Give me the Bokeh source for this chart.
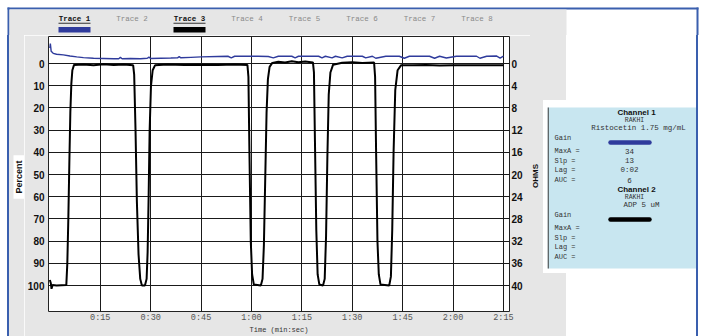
import math
from bokeh.plotting import figure
from bokeh.layouts import column, row
from bokeh.models import Range1d, LinearAxis, FixedTicker, Div
from bokeh.core.properties import value
from bokeh.embed import file_html
from bokeh.resources import INLINE

# ---------------- data ----------------
# Channel 2 (black trace), percent vs seconds
black_t = [0, 0.3, 0.5, 0.8, 2.0, 4.9, 5.2, 5.5, 5.8, 6.1, 6.4, 6.7, 7.2, 10, 13, 16, 19, 22,
           24.8, 25.1, 25.5, 25.9, 26.4, 26.9, 27.4, 28.3, 28.8, 29.1, 29.4, 29.7, 30.1, 30.6, 31.3,
           35, 40, 45, 50, 55,
           58.8, 59.1, 59.4, 59.8, 60.2, 60.7, 62.8, 63.3, 63.7, 64.1, 64.5, 64.9, 65.4, 66.2,
           68, 70, 72, 74, 76,
           78.3, 78.6, 78.9, 79.3, 79.7, 80.2, 81.3, 81.8, 82.2, 82.6, 83.0, 83.5, 84.3,
           87, 90, 93, 96.5, 96.8, 97.1, 97.5, 97.9, 98.4, 101.0, 101.5, 101.9, 102.3, 102.8, 103.5, 104.5,
           108, 112, 116, 120, 125, 130, 135]
black_pct = [97.5, 99, 101.5, 99.8, 100, 99.8, 90, 70, 45, 22, 9, 3, 0.6, 0.4, 0.7, 0.3, 0.6, 0.4,
             0.8, 5, 30, 62, 86, 97, 100, 100, 97, 85, 60, 30, 10, 3, 0.8,
             0.4, 0.6, 0.5, 0.6, 0.4,
             0.6, 6, 40, 80, 95, 99.5, 100, 97, 82, 52, 22, 7, 1.5, -0.3,
             -0.8, -0.5, -1.0, -0.6, -0.9,
             -0.5, 4, 35, 75, 95, 99.5, 100, 97, 78, 42, 14, 4, 0.5,
             -0.4, -0.6, -0.3, -0.5, 6, 40, 80, 95, 99.5, 100, 96, 75, 40, 12, 3, 0.8,
             0.8, 0.6, 0.9, 0.7, 0.8, 0.7, 0.8]

# Channel 1 (blue trace)
blue_t = [0, 0.15, 0.4, 1, 2, 4, 6, 8, 10, 13, 16, 19, 20.5, 21, 21.5, 24, 27, 29, 29.5, 30,
          33, 36, 38, 38.5, 39, 42, 45, 50, 53, 54, 55, 58, 62, 65, 66.5, 68, 72, 73, 74,
          77, 80, 81, 82, 84, 85, 87, 88.5, 90, 93, 94, 96, 97, 100, 104, 105.5, 107, 110,
          113, 114.5, 116, 118, 121, 124, 127, 128, 130, 133, 134, 135]
blue_pct = [-7, -9, -5.5, -4.6, -4.2, -3.9, -3.4, -3.0, -2.7, -2.4, -2.3, -2.2, -2.2, -2.8, -2.2, -2.3, -2.2, -2.4, -2.9, -2.3,
            -2.4, -2.5, -2.6, -3.1, -2.6, -2.8, -3.0, -3.2, -3.3, -2.6, -3.3, -3.3, -3.3, -3.2, -2.6, -3.3, -3.3, -2.6, -3.3,
            -3.3, -3.3, -2.6, -3.3, -2.6, -3.3, -2.6, -3.3, -3.3, -3.3, -2.6, -3.3, -2.4, -3.3, -3.3, -2.4, -3.3, -3.3,
            -3.3, -2.4, -3.3, -2.5, -3.3, -3.3, -3.3, -2.4, -3.3, -3.4, -2.5, -3.4]

pct_ticks = [0, 10, 20, 30, 40, 50, 60, 70, 80, 90, 100]
ohm_ticks = [0, 4, 8, 12, 16, 20, 24, 28, 32, 36, 40]
time_ticks = [15, 30, 45, 60, 75, 90, 105, 120, 135]
time_labels = ["0:15", "0:30", "0:45", "1:00", "1:15", "1:30", "1:45", "2:00", "2:15"]

trace_names = ["Trace 1", "Trace 2", "Trace 3", "Trace 4", "Trace 5", "Trace 6", "Trace 7", "Trace 8"]
trace_colors = {0: "#2f3b9c", 2: "#000000"}

ch_names = ["Channel 1", "Channel 2"]
ch_patient = ["RAKHI", "RAKHI"]
ch_agonist = ["Ristocetin 1.75 mg/mL", "ADP 5 uM"]
stat_names = ["MaxA", "Slp", "Lag", "AUC"]
ch_stats = [["34", "13", "0:02", "6"], ["", "", "", ""]]
ch_colors = ["#2f3b9c", "#000000"]

GRAY = "#e6e6e6"
BORDER = "#3a5fae"
PANEL = "#c8e6f0"

# ---------------- layout geometry (page pixels) ----------------
PAGE_W, PAGE_H = 704, 336
TOP_H = 35
FR_L, FR_R, FR_T, FR_B = 46, 509, 36, 314   # plot frame
BT, BB = FR_T - TOP_H, PAGE_H - FR_B       # row borders (top 1, bottom 22)
ROW_H = PAGE_H - TOP_H
BAND_T, BAND_B = 100, 273                  # white band around the info box


def solid(w, h, color):
    return Div(text="", width=w, height=h, margin=0, styles={"background-color": color})


def block(x0, x1, fill, y0=TOP_H, y1=PAGE_H, bt=BT, bb=BB):
    """A canvas in page-pixel coordinates (y drawn as -page_y)."""
    f = figure(width=x1 - x0, height=y1 - y0, output_backend="svg", toolbar_location=None,
               x_range=Range1d(x0, x1), y_range=Range1d(-(y1 - bb), -(y0 + bt)),
               min_border_left=0, min_border_right=0, min_border_top=bt, min_border_bottom=bb,
               x_axis_location=None, y_axis_location=None,
               styles={"background-color": fill})
    f.outline_line_color = None
    f.grid.grid_line_color = None
    f.background_fill_color = fill
    f.border_fill_color = fill
    f.tags = [x0, x1, y0 + bt, y1 - bb]
    return f


def rect(f, x0, x1, y0, y1, color):
    fx0, fx1, fy0, fy1 = f.tags
    e = 0.01
    a, b = max(x0, fx0 + e), min(x1, fx1 - e)
    c, d = max(y0, fy0 + e), min(y1, fy1 - e)
    if a < b and c < d:
        f.quad(left=[a], right=[b], top=[-c], bottom=[-d], fill_color=color, line_color=None)


def txt(f, s, x, y, size, font="Liberation Mono", style="normal", color="#222222",
        align="center", angle=0):
    f.text(x=[x], y=[-y], text=[s], text_font=value(font), text_font_size=value(size),
           text_font_style=style, text_color=color, text_align=align,
           text_baseline="middle", angle=angle)


# ---------- top strip: trace legend ----------
top = block(0, PAGE_W, "white", y0=0, y1=TOP_H, bt=0, bb=0)
rect(top, 7, 9, 7, TOP_H, BORDER)
rect(top, 7, 698, 7, 9, BORDER)
rect(top, 9, 566, 9, TOP_H, GRAY)
rect(top, 696, 698, 7, TOP_H, BORDER)
for i, name in enumerate(trace_names):
    cx = 74 + 57.5 * i
    if i in trace_colors:
        txt(top, name, cx, 18.5, "7.5px", style="bold", color="#111111")
        rect(top, cx - 16, cx + 16, 22.3, 23.3, "#333333")
        rect(top, cx - 16, cx + 16, 26.5, 32, trace_colors[i])
    else:
        txt(top, name, cx, 18.5, "7.5px", color="#8a8a8a")

# ---------- left: margin, border, y-axis title ----------
lm_gray = block(9, FR_L - 22, GRAY)
rect(lm_gray, 13, 23.5, 156, 200, "white")
txt(lm_gray, "Percent", 18.5, 178, "9px", font="Liberation Sans", style="bold",
    color="#111111", angle=math.pi / 2)

# ---------- main chart ----------
SIDE_X = 530
p = figure(width=SIDE_X - (FR_L - 22), height=ROW_H, output_backend="svg", toolbar_location=None,
           x_range=Range1d(-0.4, 136.8), y_range=Range1d(111.7, -12.2),
           min_border_left=22, min_border_right=SIDE_X - FR_R,
           min_border_top=BT, min_border_bottom=BB)
p.extra_y_ranges = {"ohms": Range1d(111.7 * 0.4, -12.2 * 0.4)}
p.background_fill_color = "white"
p.border_fill_color = GRAY
p.outline_line_color = "#222222"
p.outline_line_width = 1

right = LinearAxis(y_range_name="ohms", ticker=FixedTicker(ticks=ohm_ticks))
p.add_layout(right, "right")

for ax in [p.xaxis[0], p.yaxis[0], right]:
    ax.axis_line_color = None
    ax.major_tick_line_color = None
    ax.minor_tick_line_color = None
    ax.major_tick_out = 0
    ax.major_tick_in = 0
    ax.minor_tick_out = 0
    ax.minor_tick_in = 0

p.yaxis[0].ticker = FixedTicker(ticks=pct_ticks)
for ax in [p.yaxis[0], right]:
    ax.major_label_text_font = "Liberation Sans"
    ax.major_label_text_font_style = "bold"
    ax.major_label_text_font_size = "10px"
    ax.major_label_text_color = "#111111"
p.yaxis[0].major_label_standoff = 4
right.major_label_standoff = 2

xa = p.xaxis[0]
xa.ticker = FixedTicker(ticks=time_ticks)
xa.major_label_overrides = dict(zip(time_ticks, time_labels))
xa.major_label_text_font = "Liberation Mono"
xa.major_label_text_font_size = "8.5px"
xa.major_label_text_color = "#555555"
xa.major_label_standoff = 1
xa.axis_label = "Time (min:sec)"
xa.axis_label_text_font = "Liberation Mono"
xa.axis_label_text_font_size = "7px"
xa.axis_label_text_font_style = "normal"
xa.axis_label_text_color = "#333333"
xa.axis_label_standoff = 0

p.xgrid.ticker = FixedTicker(ticks=time_ticks)
p.ygrid.ticker = FixedTicker(ticks=pct_ticks)
p.grid.grid_line_color = "#1a1a1a"
p.grid.grid_line_width = 1

p.line(blue_t, blue_pct, line_color="#2f3b9c", line_width=1.4)
p.line(black_t, black_pct, line_color="#000000", line_width=2)

# ---------- right side ----------
ohms = block(SIDE_X, 543, GRAY)
txt(ohms, "OHMS", 535, 177, "8px", font="Liberation Sans", style="bold",
    color="#111111", angle=math.pi / 2)

edge_col = column(solid(4, BAND_T - TOP_H, GRAY), solid(4, BAND_B - BAND_T, "white"),
                  solid(4, PAGE_H - BAND_B, GRAY))

info = block(547, 696, "white", y0=BAND_T, y1=BAND_B, bt=0, bb=0)
rect(info, 547, 696, 107, 268, PANEL)
rect(info, 547, 548.2, 107, 268, "#333333")
blocks_y = [112, 189]
for c in range(2):
    y0 = blocks_y[c]
    txt(info, ch_names[c], 636, y0, "8px", font="Liberation Sans", style="bold", color="#111111")
    txt(info, ch_patient[c], 634, y0 + 7.5, "6.5px", color="#333333")
    txt(info, ch_agonist[c], 638 if c == 0 else 641, y0 + 15.5, "7.5px", color="#333333")
    txt(info, "Gain", 554, y0 + 25, "7px", color="#333333", align="left")
    info.line(x=[610, 649], y=[-(y0 + 30), -(y0 + 30)], line_width=4.5, line_cap="round",
              line_color=ch_colors[c])
    for k, sn in enumerate(stat_names):
        yy = y0 + 38.5 + 9.7 * k
        txt(info, f"{sn:<5}=", 554, yy, "7px", color="#333333", align="left")
        if ch_stats[c][k]:
            txt(info, ch_stats[c][k], 629, yy, "7.5px", color="#333333")

info_col = column(
    row(solid(566 - 547, BAND_T - TOP_H, GRAY), solid(696 - 566, BAND_T - TOP_H, "white")),
    info,
    row(solid(566 - 547, PAGE_H - BAND_B, GRAY), solid(696 - 566, PAGE_H - BAND_B, "white")),
)

middle = row(solid(7, ROW_H, "white"), solid(2, ROW_H, BORDER), lm_gray, p,
             ohms, edge_col, info_col, solid(2, ROW_H, BORDER), solid(6, ROW_H, "white"))

layout = column(top, middle)
open("out.html", "w").write(file_html(layout, INLINE))
